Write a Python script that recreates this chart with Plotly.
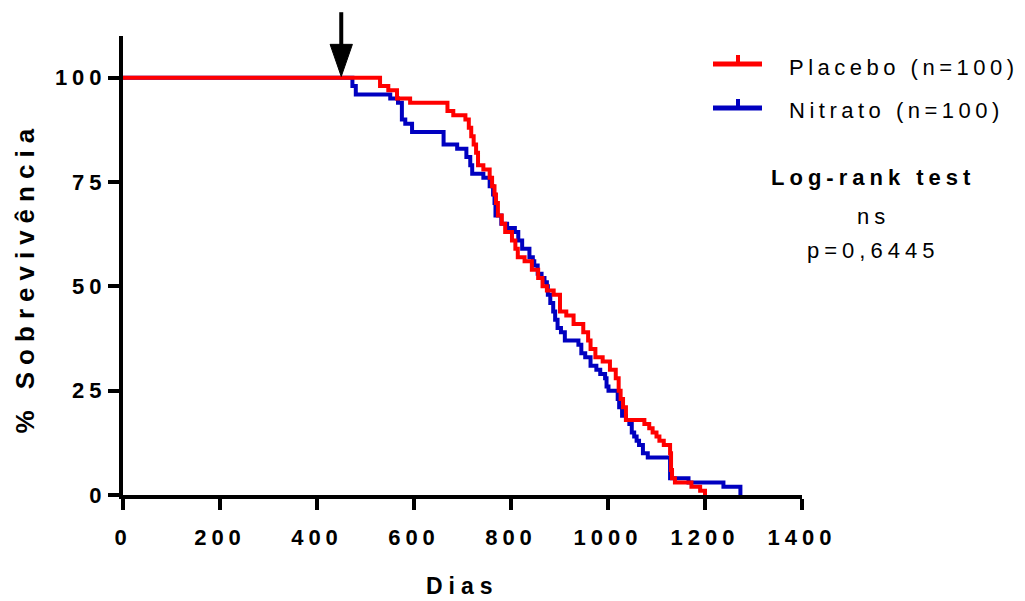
import plotly.graph_objects as go

# ---------------- data ----------------
placebo_days = [0, 530, 547, 565, 592, 669, 681, 706, 713, 718, 723, 728, 732, 743, 756, 761, 766, 769,
                773, 781, 788, 802, 809, 814, 828, 843, 856, 865, 874, 888, 901, 914, 929, 949, 959,
                964, 974, 989, 1004, 1016, 1022, 1026, 1031, 1037, 1075, 1085, 1092, 1100, 1106, 1115,
                1128, 1130, 1132, 1138, 1172, 1190, 1200]
placebo_surv = [100, 98, 97, 95, 94, 92, 91, 90, 88, 86, 84, 82, 79, 78, 76, 74, 72, 70,
                67, 65, 63, 61, 59, 57, 56, 54, 52, 50, 49, 48, 44, 43, 41, 39, 37,
                35, 33, 32, 30, 28, 25, 23, 21, 18, 17, 16, 15, 14, 13, 12,
                10, 6, 4, 3, 2, 1, 0]

nitrato_days = [0, 473, 480, 551, 567, 575, 582, 596, 661, 689, 708, 716, 720, 743, 756, 763, 766, 768,
                780, 792, 808, 815, 823, 838, 845, 848, 855, 863, 869, 874, 876, 881, 887, 891, 896,
                903, 911, 939, 945, 953, 964, 976, 984, 994, 997, 1001, 1020, 1023, 1029, 1037, 1044,
                1049, 1054, 1059, 1064, 1072, 1082, 1128, 1166, 1238, 1273]
nitrato_surv = [100, 98, 96, 95, 94, 90, 89, 87, 84, 83, 81, 79, 77, 76, 74, 72, 70, 67,
                65, 64, 63, 61, 59, 57, 56, 55, 53, 52, 51, 50, 48, 46, 44, 42, 40,
                39, 37, 36, 34, 33, 31, 30, 29, 28, 26, 25, 23, 21, 19, 18, 17,
                15, 14, 13, 12, 10, 9, 4, 3, 2, 0]

series_names = ["Placebo (n=100)", "Nitrato (n=100)"]
series_colors = ["#FF0000", "#0000C0"]

x_ticks = [0, 200, 400, 600, 800, 1000, 1200, 1400]
y_ticks = [0, 25, 50, 75, 100]
x_title = "Dias"
y_title = "% Sobrevivência"
stat_title = "Log-rank test"
stat_sig = "ns"
stat_p = "p=0,6445"
arrow_day = 450

X_MAX = 1400
Y_MAX = 110
FONT = "Liberation Sans"

# layout geometry (pixels)
W, H = 1025, 601
ML, MR, MT, MB = 123, 223, 36, 106
PW, PH = W - ML - MR, H - MT - MB


def px_x(px):
    return (px - ML) / PW


def px_y(py):
    return (H - MB - py) / PH


def spaced(txt, px=5):
    return f"<span style='letter-spacing:{px}px'>{txt}</span>"


fig = go.Figure()

# curves (Nitrato first so Placebo sits on top)
fig.add_trace(go.Scatter(x=nitrato_days, y=nitrato_surv, mode="lines", line_shape="hv",
                         name=series_names[1],
                         line=dict(color=series_colors[1], width=4), showlegend=False))
fig.add_trace(go.Scatter(x=placebo_days, y=placebo_surv, mode="lines", line_shape="hv",
                         name=series_names[0],
                         line=dict(color=series_colors[0], width=4), showlegend=False))

axis_common = dict(showgrid=False, zeroline=False, showline=True, linecolor="black", linewidth=4,
                   ticks="outside", ticklen=11, tickwidth=4, tickcolor="black",
                   tickfont=dict(family=FONT, size=22, color="black", weight="bold"))

fig.update_xaxes(range=[0, X_MAX], tickvals=x_ticks, ticktext=[spaced(str(v)) for v in x_ticks],
                 ticklabelstandoff=9, **axis_common)
fig.update_yaxes(range=[0, Y_MAX], tickvals=y_ticks, ticktext=[spaced(str(v)) for v in y_ticks],
                 ticklabelstandoff=-3, **axis_common)

# arrow marking day 450
fig.add_shape(type="line", xref="x", yref="paper", x0=arrow_day, x1=arrow_day,
              y0=115.7 / Y_MAX, y1=106 / Y_MAX, line=dict(color="black", width=4))
fig.add_shape(type="path", xref="x", yref="paper",
              path=f"M {arrow_day - 23},{108 / Y_MAX} L {arrow_day + 23},{108 / Y_MAX} "
                   f"L {arrow_day},{100.3 / Y_MAX} Z",
              fillcolor="black", line=dict(color="black", width=1))

# legend (drawn as shapes + text to match the original layout)
legend_rows_px = [64, 108]
for name, col, ry in zip(series_names, series_colors, legend_rows_px):
    fig.add_shape(type="line", xref="paper", yref="paper", x0=px_x(713), x1=px_x(762),
                  y0=px_y(ry), y1=px_y(ry), line=dict(color=col, width=5))
    fig.add_shape(type="line", xref="paper", yref="paper", x0=px_x(738), x1=px_x(738),
                  y0=px_y(ry), y1=px_y(ry - 9), line=dict(color=col, width=4))
    fig.add_annotation(text=spaced(name, 4.5), xref="paper", x=px_x(787), yref="paper",
                       y=px_y(ry + 3), showarrow=False, xanchor="left", yanchor="middle",
                       font=dict(family=FONT, size=22, color="black"))

# titles
fig.add_annotation(text=spaced(x_title, 6), xref="x", x=X_MAX / 2, yref="paper", y=-0.198,
                   showarrow=False, font=dict(family=FONT, size=23, color="black", weight="bold"),
                   xanchor="center", yanchor="middle")
fig.add_annotation(text=spaced(y_title, 7), xref="paper", x=-0.145, yref="y", y=52,
                   showarrow=False, textangle=-90,
                   font=dict(family=FONT, size=26, color="black", weight="bold"),
                   xanchor="center", yanchor="middle")

# statistics text
stat_font = dict(family=FONT, size=22, color="black")
fig.add_annotation(text=spaced(stat_title), xref="paper", x=px_x(873), yref="paper", y=px_y(177),
                   showarrow=False, font=dict(stat_font, weight="bold"),
                   xanchor="center", yanchor="middle")
fig.add_annotation(text=spaced(stat_sig), xref="paper", x=px_x(873), yref="paper", y=px_y(216),
                   showarrow=False, font=stat_font, xanchor="center", yanchor="middle")
fig.add_annotation(text=spaced(stat_p), xref="paper", x=px_x(873), yref="paper", y=px_y(251),
                   showarrow=False, font=stat_font, xanchor="center", yanchor="middle")

fig.update_layout(
    width=W, height=H,
    margin=dict(l=ML, r=MR, t=MT, b=MB, autoexpand=False),
    plot_bgcolor="white", paper_bgcolor="white",
    showlegend=False,
)

fig.write_html("out.html")
